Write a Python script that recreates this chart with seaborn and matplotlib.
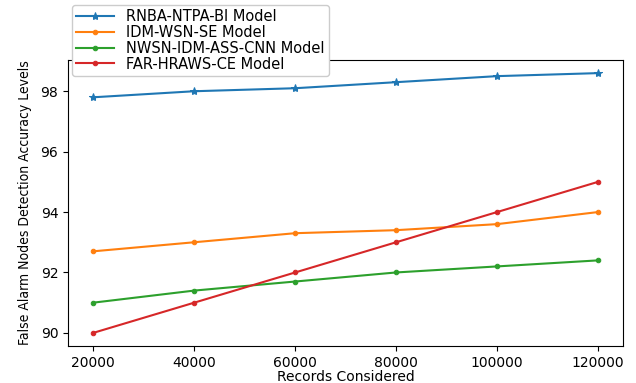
import matplotlib
matplotlib.use("Agg")
import matplotlib.pyplot as plt
import seaborn as sns
import pandas as pd

records = [20000, 40000, 60000, 80000, 100000, 120000]
rnba = [97.8, 98.0, 98.1, 98.3, 98.5, 98.6]
idm = [92.7, 93.0, 93.3, 93.4, 93.6, 94.0]
nwsn = [91.0, 91.4, 91.7, 92.0, 92.2, 92.4]
far = [90.0, 91.0, 92.0, 93.0, 94.0, 95.0]

series = [
    ("RNBA-NTPA-BI Model", rnba, "*", "#1f77b4"),
    ("IDM-WSN-SE Model", idm, ".", "#ff7f0e"),
    ("NWSN-IDM-ASS-CNN Model", nwsn, ".", "#2ca02c"),
    ("FAR-HRAWS-CE Model", far, ".", "#d62728"),
]

fig = plt.figure(figsize=(6.36, 3.83), dpi=100)
ax = fig.add_axes([0.107, 0.097, 0.873, 0.746])

for name, vals, mk, col in series:
    df = pd.DataFrame({"x": records, "y": vals})
    sns.lineplot(data=df, x="x", y="y", ax=ax, marker=mk, color=col,
                 label=name, markersize=6 if mk == "*" else 6.5,
                 markeredgecolor=col)

ax.set_xlabel("Records Considered", fontsize=10, labelpad=0)
ax.set_ylabel("False Alarm Nodes Detection Accuracy Levels", fontsize=10,
              fontstretch="condensed", labelpad=6)
ax.set_xticks(records)
ax.set_yticks([90, 92, 94, 96, 98])
ax.tick_params(labelsize=10)
ax.legend(loc="upper left", bbox_to_anchor=(72 / 636, 1 - 5 / 383),
          bbox_transform=fig.transFigure, fontsize=10.5, framealpha=1,
          borderaxespad=0, labelspacing=0.05, borderpad=0.3,
          handlelength=2.6, handletextpad=0.8)

fig.savefig("out.png", dpi=100)
